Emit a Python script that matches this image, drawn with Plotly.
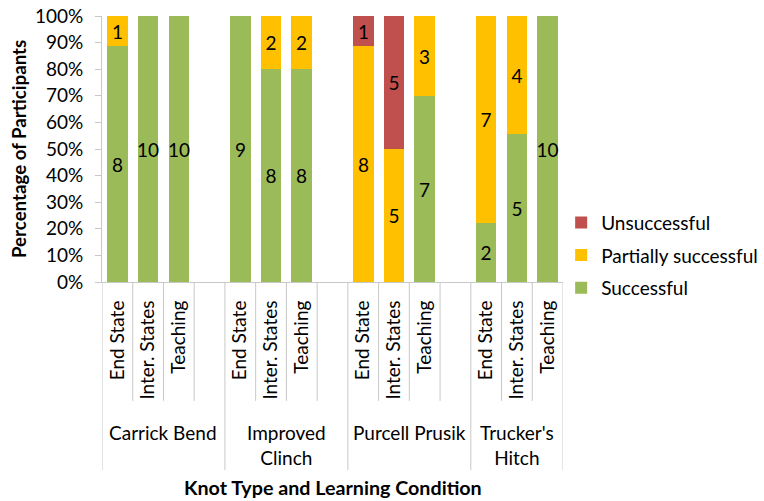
import plotly.graph_objects as go

# ---- data ----
knots = ["Carrick Bend", "Improved<br>Clinch", "Purcell Prusik", "Trucker's<br>Hitch"]
conditions = ["End State", "Inter. States", "Teaching"]
series_names = ["Successful", "Partially successful", "Unsuccessful"]
legend_ranks = [3, 2, 1]
colors = ["#9BBB59", "#FFC000", "#C0504D"]

# counts per knot, ordered by condition (End State, Inter. States, Teaching)
successful = [8, 10, 10,  9, 8, 8,  0, 0, 7,  2, 5, 10]
partial    = [1, 0, 0,    0, 2, 2,  8, 5, 3,  7, 4, 0]
unsuccess  = [0, 0, 0,    0, 0, 0,  1, 5, 0,  0, 0, 0]
counts = [successful, partial, unsuccess]

FONT = "Lato, Carlito, sans-serif"

# slot positions: 3 bars per knot plus one empty slot between knots
slots_per_group = len(conditions) + 1
xpos, ticktext = [], []
for g in range(len(knots)):
    for c, cond in enumerate(conditions):
        xpos.append(g * slots_per_group + c)
        ticktext.append(cond)
n_slots = len(knots) * slots_per_group - 1

totals = [sum(col) for col in zip(*counts)]

fig = go.Figure()
for name, rank, col, vals in zip(series_names, legend_ranks, colors, counts):
    pct = [v / t * 100 for v, t in zip(vals, totals)]
    fig.add_trace(go.Bar(
        x=xpos, y=pct, name=name, legendgroup=name, legendrank=rank,
        marker=dict(color=col, line=dict(width=0)),
        width=0.67,
        text=[str(v) if v else "" for v in vals],
        textposition="inside", insidetextanchor="middle", textangle=0,
        textfont=dict(family=FONT, size=19, color="black"),
        hoverinfo="skip",
    ))

# separator lines under the category axis
shapes = []
for b in range(n_slots + 1):
    xb = b - 0.5
    is_group = (b % slots_per_group == 0) or b == n_slots
    shapes.append(dict(type="line", xref="x", yref="paper", x0=xb, x1=xb,
                       y0=0, y1=-0.707 if is_group else -0.447,
                       line=dict(color="#C8C8C8", width=1)))

annotations = []
for g, k in enumerate(knots):
    start = g * slots_per_group - 0.5
    end = min(start + slots_per_group, n_slots - 0.5)
    annotations.append(dict(x=(start + end) / 2, y=-0.515, xref="x", yref="paper",
                            text=k, showarrow=False, yanchor="top", xanchor="center",
                            font=dict(family=FONT, size=19, color="black")))
annotations.append(dict(x=0.5, y=-0.771, xref="paper", yref="paper",
                        text="<b>Knot Type and Learning Condition</b>", showarrow=False,
                        yanchor="middle", xanchor="center",
                        font=dict(family=FONT, size=19.7, color="black")))
annotations.append(dict(x=-0.18, y=0.5, xref="paper", yref="paper",
                        text="<b>Percentage of Participants</b>", showarrow=False,
                        textangle=-90, yanchor="middle", xanchor="center",
                        font=dict(family=FONT, size=18.7, color="black")))

fig.update_layout(
    width=764, height=501,
    margin=dict(l=102, r=201, t=16, b=219, autoexpand=False),
    paper_bgcolor="white", plot_bgcolor="white",
    barmode="stack", bargap=0,
    shapes=shapes, annotations=annotations,
    legend=dict(x=0.996, y=0.295, xanchor="left", yanchor="top",
                traceorder="grouped", tracegroupgap=5,
                font=dict(family=FONT, size=19, color="black"),
                bgcolor="rgba(0,0,0,0)"),
    uniformtext=dict(minsize=19, mode="show"),
)
fig.update_xaxes(range=[-0.5, n_slots - 0.5], tickmode="array", tickvals=xpos,
                 ticktext=ticktext, tickangle=-90, showgrid=False, zeroline=False,
                 showline=True, linecolor="#C8C8C8", ticks="", ticklabelstandoff=10,
                 automargin=False,
                 tickfont=dict(family=FONT, size=19, color="black"), fixedrange=True)
fig.update_yaxes(range=[0, 100], tickmode="linear", tick0=0, dtick=10, ticksuffix="%",
                 showgrid=False, zeroline=False, showline=True, linecolor="#C8C8C8",
                 ticks="outside", ticklen=6, tickcolor="#C8C8C8", automargin=False,
                 ticklabelstandoff=8,
                 tickfont=dict(family=FONT, size=19, color="black"), fixedrange=True)

# remove the browser's default 8px page margin so the figure fills the window
fig.write_html("out.html", config={"displayModeBar": False},
               post_script="document.body.style.margin='0';document.body.style.overflow='hidden';")
